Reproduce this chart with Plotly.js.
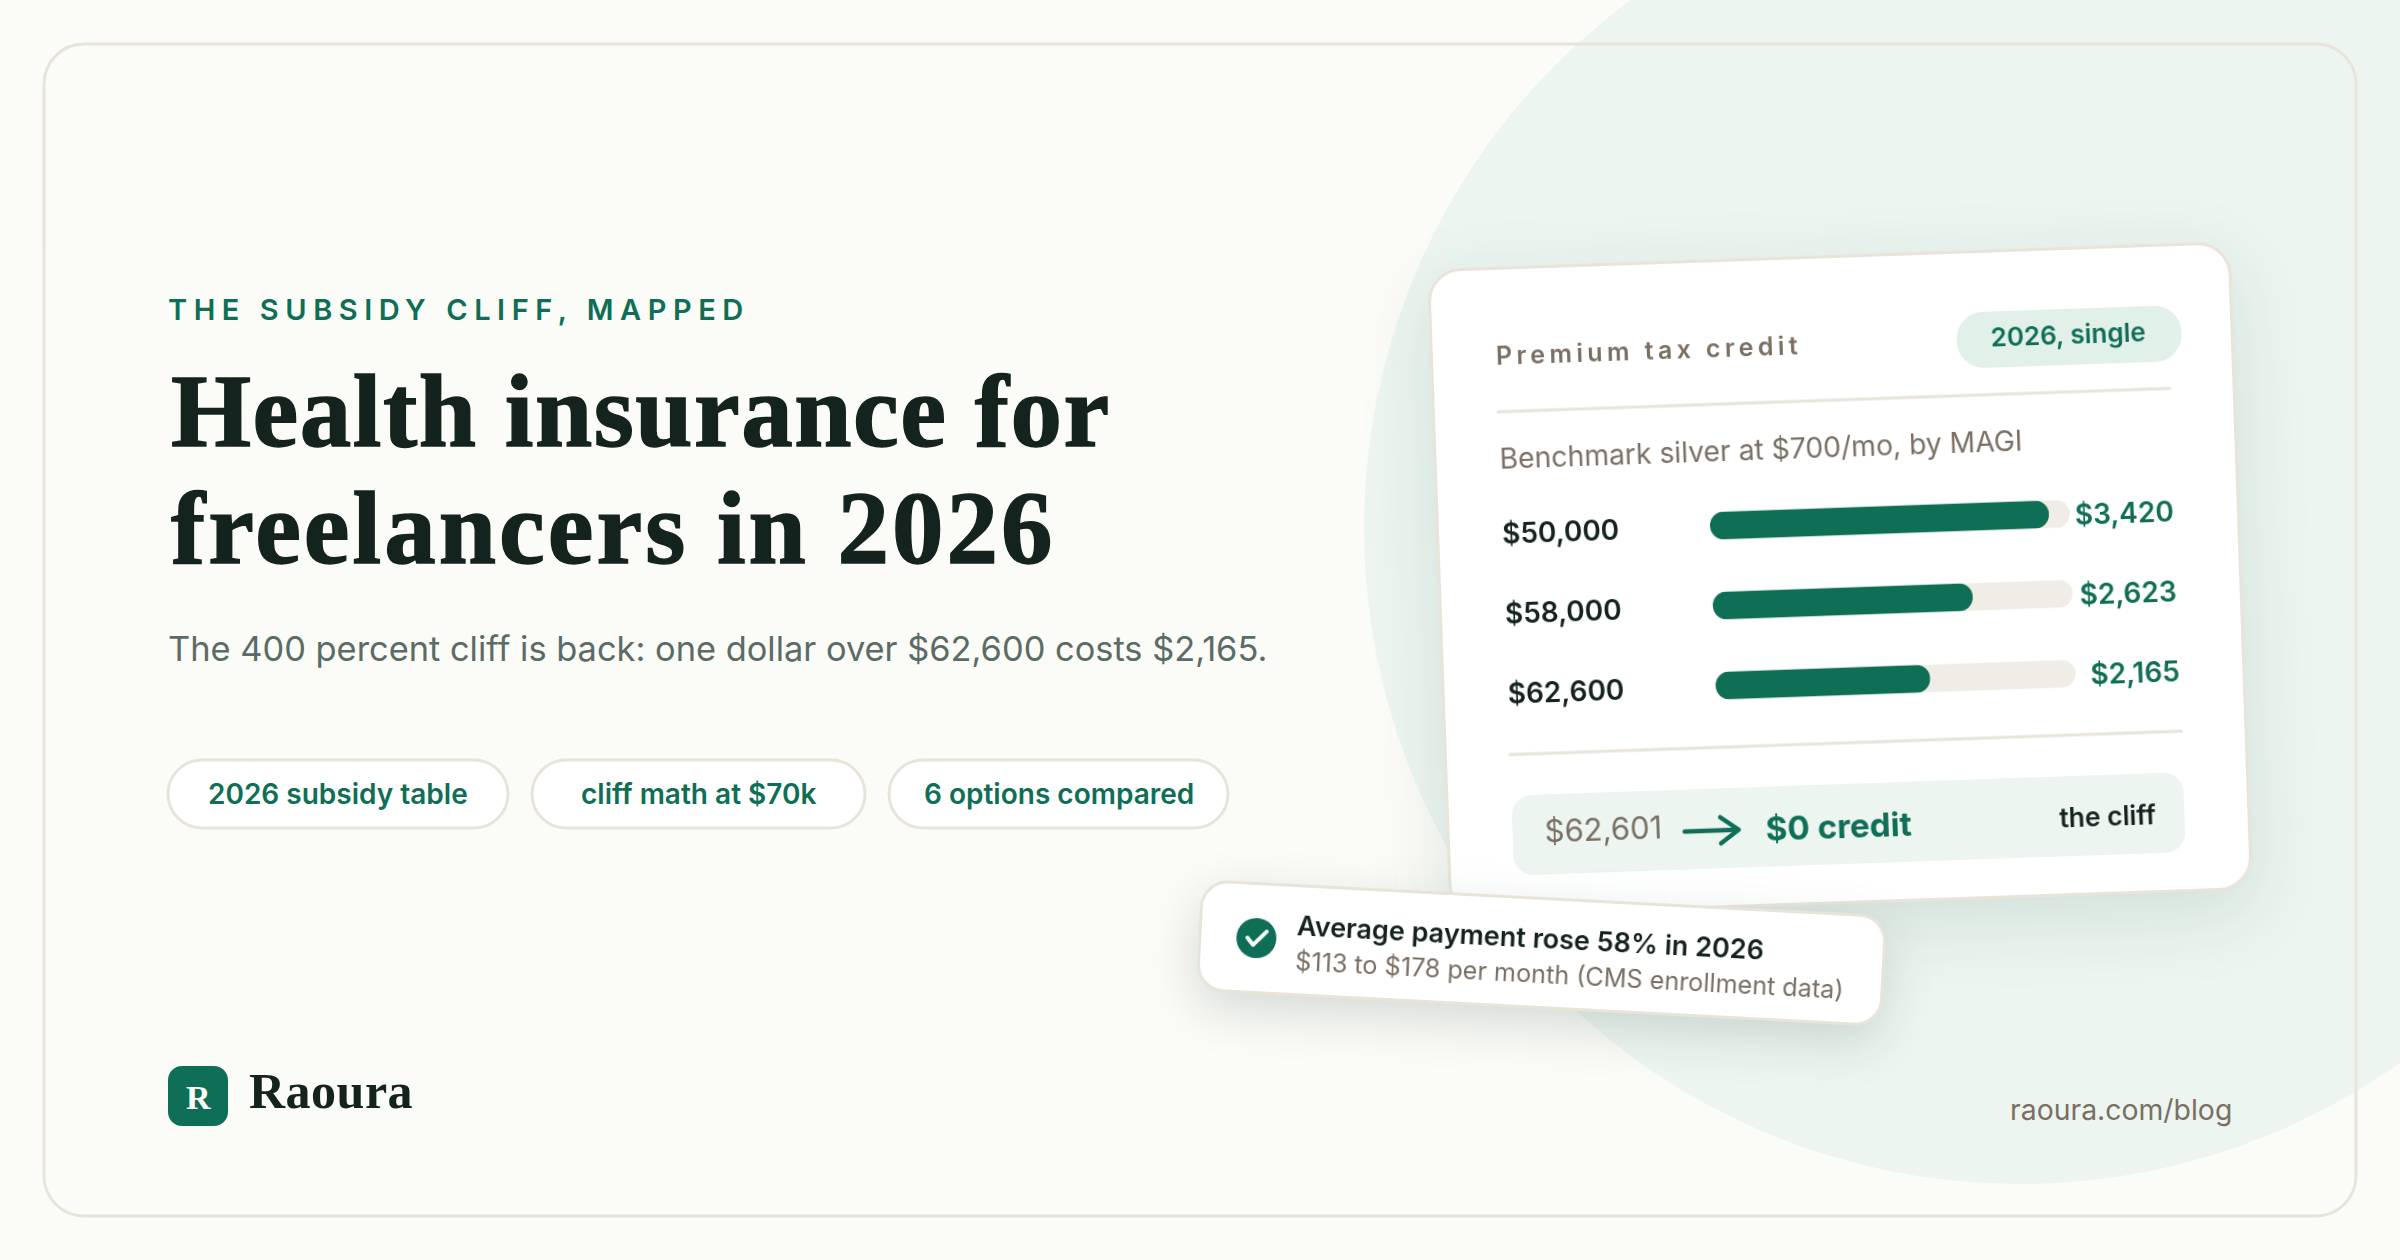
<!DOCTYPE html>
<html>
<head>
<meta charset="utf-8">
<script src="https://cdn.plot.ly/plotly-3.0.1.min.js"></script>
<style>
html,body{margin:0;padding:0;width:2400px;height:1260px;overflow:hidden;background:#FBFBF7}
.layer{position:absolute}
#bg{left:0;top:0;width:2400px;height:1260px}
#card{left:1438px;top:255px;width:804px;height:650px;transform:rotate(-2deg);filter:drop-shadow(0 22px 34px rgba(20,70,52,.13))}
#toast{left:1198px;top:897px;width:687px;height:112px;transform:rotate(3deg);filter:drop-shadow(0 16px 24px rgba(20,50,40,.16))}
#card .barlayer .point path{clip-path:inset(0 round 14px)}
#card .shapelayer path{stroke-linecap:round;stroke-linejoin:round}
#toast .shapelayer path{stroke-linecap:round;stroke-linejoin:round}
</style>
</head>
<body>
<div id="bg" class="layer"></div>
<div id="card" class="layer"></div>
<div id="toast" class="layer"></div>
<script>
// ---- chart data ----
const incomes = ['$50,000', '$58,000', '$62,600'];
const credits = [3420, 2623, 2165];
const creditLabels = ['$3,420', '$2,623', '$2,165'];
const trackMax = 3630;
const optionPills = ['2026 subsidy table', 'cliff math at $70k', '6 options compared'];

// ---- palette ----
const GREEN = '#0F6E56', INK = '#14231E', MUTED = '#7A6F63', BORDER = '#E8E4DA',
      TRACK = '#EFEDE6', MINT = '#ECF5F0', MINT2 = '#E2F0EA', PAGE = '#FBFBF7', SANS = 'Inter', SERIF = 'Liberation Serif';

function rr(x0, y0, x1, y1, r) {
  const c = r * 0.4477;
  return `M${x0 + r} ${y0}H${x1 - r}C${x1 - c} ${y0} ${x1} ${y0 + c} ${x1} ${y0 + r}V${y1 - r}C${x1} ${y1 - c} ${x1 - c} ${y1} ${x1 - r} ${y1}H${x0 + r}C${x0 + c} ${y1} ${x0} ${y1 - c} ${x0} ${y1 - r}V${y0 + r}C${x0} ${y0 + c} ${x0 + c} ${y0} ${x0 + r} ${y0}Z`;
}
function box(x0, y0, x1, y1, r, fill, line, w) {
  return {type: 'path', xref: 'x', yref: 'y', layer: 'below', path: rr(x0, y0, x1, y1, r), fillcolor: fill, line: {color: line || fill, width: line ? w : 0}};
}
function label(text, x, base, size, color, opts) {
  opts = opts || {};
  const fam = opts.family || SANS;
  const k = fam === SANS ? 0.365 : 0.3375;
  return {text: text, x: x, y: base - k * size, xref: 'x', yref: 'y', showarrow: false,
    xanchor: opts.anchor || 'left', yanchor: 'middle', align: opts.anchor === 'right' ? 'right' : (opts.anchor === 'center' ? 'center' : 'left'),
    borderpad: 0, borderwidth: 0,
    font: {family: fam, size: size, color: color, weight: opts.weight || 400}};
}
function baseLayout(w, h, ox, oy) {
  ox = ox || 0; oy = oy || 0;
  return {width: w, height: h, margin: {l: 0, r: 0, t: 0, b: 0}, autosize: false, showlegend: false,
    paper_bgcolor: 'rgba(0,0,0,0)', plot_bgcolor: 'rgba(0,0,0,0)', hovermode: false,
    xaxis: {range: [-ox, w - ox], visible: false, fixedrange: true},
    yaxis: {range: [h - oy, -oy], visible: false, fixedrange: true}};
}
const cfg = {staticPlot: true, displayModeBar: false};

// ---- background plot (page coordinates) ----
const pillGeom = [[168, 508], [532, 865], [889, 1228]];
const bgShapes = [
  {type: 'circle', xref: 'x', yref: 'y', layer: 'below', x0: 2020 - 656, x1: 2020 + 656, y0: 528 - 656, y1: 528 + 656, fillcolor: MINT, line: {width: 0}},
  box(44, 44, 2356, 1216, 40, 'rgba(0,0,0,0)', BORDER, 3),
  box(168, 1066, 228, 1126, 14, GREEN)
];
const bgAnn = [
  label('THE SUBSIDY CLIFF, MAPPED', 168, 320, 29, GREEN, {weight: 600}),
  label('Health insurance for', 171, 446, 103, INK, {family: SERIF, weight: 700}),
  label('freelancers in 2026', 171, 563, 103, INK, {family: SERIF, weight: 700}),
  label('The 400 percent cliff is back: one dollar over $62,600 costs $2,165.', 168, 661, 34.4, '#5B6B65'),
  label('R', 198, 1109, 34, '#FFFFFF', {family: SERIF, weight: 700, anchor: 'center'}),
  label('Raoura', 249, 1108, 50, INK, {family: SERIF, weight: 700}),
  label('raoura.com/blog', 2232, 1120, 28.4, MUTED, {anchor: 'right'})
];
optionPills.forEach((t, i) => {
  const g = pillGeom[i];
  bgShapes.push(box(g[0], 760, g[1], 828, 34, '#FFFFFF', BORDER, 3));
  bgAnn.push(label(t, (g[0] + g[1]) / 2, 804.5, 28, GREEN, {weight: 600, anchor: 'center'}));
});
const bgLayout = baseLayout(2400, 1260);
bgLayout.shapes = bgShapes;
bgLayout.annotations = bgAnn;
Plotly.newPlot('bg', [], bgLayout, cfg).then(() => {
  const t = document.querySelectorAll('#bg .annotation text');
  t[0].style.letterSpacing = '6.55px';
  t[1].style.letterSpacing = '1.5px';
  t[2].style.letterSpacing = '3px';
  t[5].style.letterSpacing = '.5px';
  [t[1], t[2]].forEach(e => { e.style.stroke = INK; e.style.strokeWidth = '1.4px'; });
});

// ---- card plot (card-local coordinates) ----
const cardW = 804, cardH = 650, cardOx = 2, cardOy = 3;
const trackX0 = 272, trackX1 = 632, rowTop = 223.5, rowBottom = 463.5;
const cardLayout = baseLayout(cardW, cardH, cardOx, cardOy);
cardLayout.xaxis2 = {domain: [(trackX0 + cardOx) / cardW, (trackX1 + cardOx) / cardW], range: [0, trackMax], visible: false, anchor: 'y2', fixedrange: true};
cardLayout.yaxis2 = {domain: [1 - (rowBottom + cardOy) / cardH, 1 - (rowTop + cardOy) / cardH], type: 'category', categoryorder: 'array', categoryarray: incomes, autorange: 'reversed', visible: false, anchor: 'x2', fixedrange: true};
cardLayout.barmode = 'overlay';
cardLayout.bargap = 0.65;
cardLayout.shapes = [
  box(-0.5, -1.5, 800.5, 644.5, 32, '#FFFFFF', BORDER, 3),
  box(525, 59, 750, 115, 27, MINT2),
  {type: 'line', xref: 'x', yref: 'y', layer: 'below', x0: 64, x1: 736, y0: 142, y1: 142, line: {color: BORDER, width: 3}},
  {type: 'line', xref: 'x', yref: 'y', layer: 'below', x0: 64, x1: 736, y0: 485, y1: 485, line: {color: BORDER, width: 3}},
  box(64, 526, 736, 606, 20, MINT),
  {type: 'path', xref: 'x', yref: 'y', layer: 'above', path: 'M236 568H290M272 555L290 568L272 581', fillcolor: 'rgba(0,0,0,0)', line: {color: GREEN, width: 4.5}}
];
cardLayout.annotations = [
  label('Premium tax credit', 64, 95, 25, MUTED, {weight: 600}),
  label('2026, single', 636, 94, 26, GREEN, {weight: 600, anchor: 'center'}),
  label('Benchmark silver at $700/mo, by MAGI', 64, 199, 28.3, MUTED),
  label('$62,601', 96, 574, 31, MUTED),
  label('$0 credit', 317, 580, 33.2, GREEN, {weight: 700}),
  label('the cliff', 707, 577, 26.4, INK, {weight: 600, anchor: 'right'})
];
incomes.forEach((t, i) => {
  cardLayout.annotations.push(label(t, 64, 274.5 + i * 80, 28, INK, {weight: 600}));
  cardLayout.annotations.push(label(creditLabels[i], 735.5, 275 + i * 80, 28, GREEN, {weight: 600, anchor: 'right'}));
});
const barTraces = [
  {type: 'bar', orientation: 'h', y: incomes, x: incomes.map(() => trackMax), xaxis: 'x2', yaxis: 'y2', marker: {color: TRACK, line: {width: 0}}, hoverinfo: 'skip'},
  {type: 'bar', orientation: 'h', y: incomes, x: credits, xaxis: 'x2', yaxis: 'y2', marker: {color: GREEN, line: {width: 0}}, hoverinfo: 'skip'}
];
Plotly.newPlot('card', barTraces, cardLayout, cfg).then(() => {
  document.querySelectorAll('#card .annotation text')[0].style.letterSpacing = '4.4px';
});

// ---- toast plot ----
const toastLayout = baseLayout(687, 112, 3, 0);
toastLayout.shapes = [
  box(-1.5, 1.5, 682.5, 110.5, 26, '#FFFFFF', BORDER, 3),
  {type: 'circle', xref: 'x', yref: 'y', layer: 'below', x0: 35, x1: 75, y0: 36, y1: 76, fillcolor: GREEN, line: {width: 0}},
  {type: 'path', xref: 'x', yref: 'y', layer: 'above', path: 'M46 56L52 63L65 49', fillcolor: 'rgba(0,0,0,0)', line: {color: '#FFFFFF', width: 4}}
];
toastLayout.annotations = [
  label('Average payment rose 58% in 2026', 94.5, 51, 27, INK, {weight: 600}),
  label('$113 to $178 per month (CMS enrollment data)', 94.5, 86, 25.2, MUTED)
];
Plotly.newPlot('toast', [], toastLayout, cfg);
</script>
</body>
</html>
